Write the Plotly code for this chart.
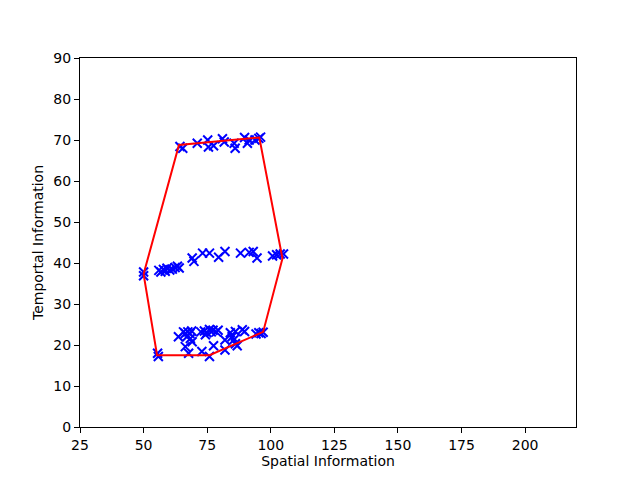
import plotly.graph_objects as go

# scatter points (spatial, temporal)
top_x = [64.3, 65.4, 71.1, 75.2, 75.5, 77.5, 81.0, 81.7, 85.6, 86.0, 89.7, 90.8, 91.5, 93.8, 95.3, 96.0]
top_y = [68.4, 68.0, 69.2, 70.0, 68.3, 68.6, 70.3, 69.5, 69.2, 68.0, 70.6, 69.2, 70.0, 70.0, 70.4, 70.7]

mid_x = [50.0, 50.0, 56.0, 56.8, 57.8, 58.5, 59.2, 60.3, 61.3, 62.4, 63.3, 64.0,
         69.1, 69.8, 73.2, 75.9, 79.5, 82.0, 88.1, 91.5, 93.1, 94.6, 100.7, 102.3, 103.7, 105.0]
mid_y = [37.8, 36.9, 38.2, 37.8, 38.4, 38.0, 38.7, 38.3, 38.5, 38.9, 39.2, 38.8,
         41.2, 40.4, 42.4, 42.4, 41.4, 42.8, 42.4, 42.6, 42.8, 41.2, 41.7, 42.0, 42.2, 42.2]

bot_x = [55.5, 55.8, 63.7, 65.7, 66.4, 67.4, 68.2, 68.9, 67.0, 68.4, 69.1, 66.4, 67.7,
         72.5, 73.9, 74.9, 75.9, 76.6, 77.3, 78.6, 79.3, 74.3, 72.9, 77.5, 75.9,
         82.0, 82.0, 84.1, 84.8, 85.4, 86.1, 86.8, 86.1, 88.8, 89.7, 94.2, 95.3, 96.2, 97.0]
bot_y = [18.0, 17.2, 22.0, 23.2, 22.8, 23.2, 22.8, 23.4, 22.0, 21.6, 20.8, 19.6, 18.0,
         23.2, 23.4, 23.0, 23.8, 23.2, 23.6, 23.2, 23.6, 22.5, 18.4, 19.8, 17.2,
         21.2, 18.8, 23.0, 22.0, 21.2, 20.3, 19.8, 23.3, 23.7, 23.3, 22.7, 23.0, 22.8, 23.1]

# convex hull outline
hull_x = [50.0, 55.3, 75.9, 97.0, 104.6, 95.5, 63.9, 50.0]
hull_y = [37.3, 17.5, 17.5, 23.2, 41.1, 70.6, 68.8, 37.3]

x_ticks = [25, 50, 75, 100, 125, 150, 175, 200]
y_ticks = [0, 10, 20, 30, 40, 50, 60, 70, 80, 90]

fig = go.Figure()
fig.add_trace(go.Scatter(
    x=top_x + mid_x + bot_x, y=top_y + mid_y + bot_y, mode="markers",
    marker=dict(symbol="x-thin", size=9, color="#0000ff",
                line=dict(color="#0000ff", width=2)),
))
fig.add_trace(go.Scatter(
    x=hull_x, y=hull_y, mode="lines",
    line=dict(color="#ff0000", width=2),
))

axis_common = dict(
    showgrid=False, zeroline=False, showline=True, linecolor="black", linewidth=1,
    mirror=True, ticks="outside", ticklen=5, tickcolor="black", automargin=False,
    tickfont=dict(size=14, color="black", family="DejaVu Sans"),
)
# page body adds an 8px offset, so margins are trimmed to land the axes where they belong
fig.update_layout(
    width=640, height=480,
    margin=dict(l=72, r=72, t=50, b=61),
    paper_bgcolor="white", plot_bgcolor="white",
    showlegend=False,
    font=dict(family="DejaVu Sans", color="black"),
    xaxis=dict(range=[25, 220], tickvals=x_ticks,
               title=dict(text="Spatial Information", font=dict(size=14), standoff=4),
               **axis_common),
    yaxis=dict(range=[0, 90], tickvals=y_ticks,
               title=dict(text="Temportal Information", font=dict(size=14), standoff=6),
               **axis_common),
)
fig.write_html("out.html")
